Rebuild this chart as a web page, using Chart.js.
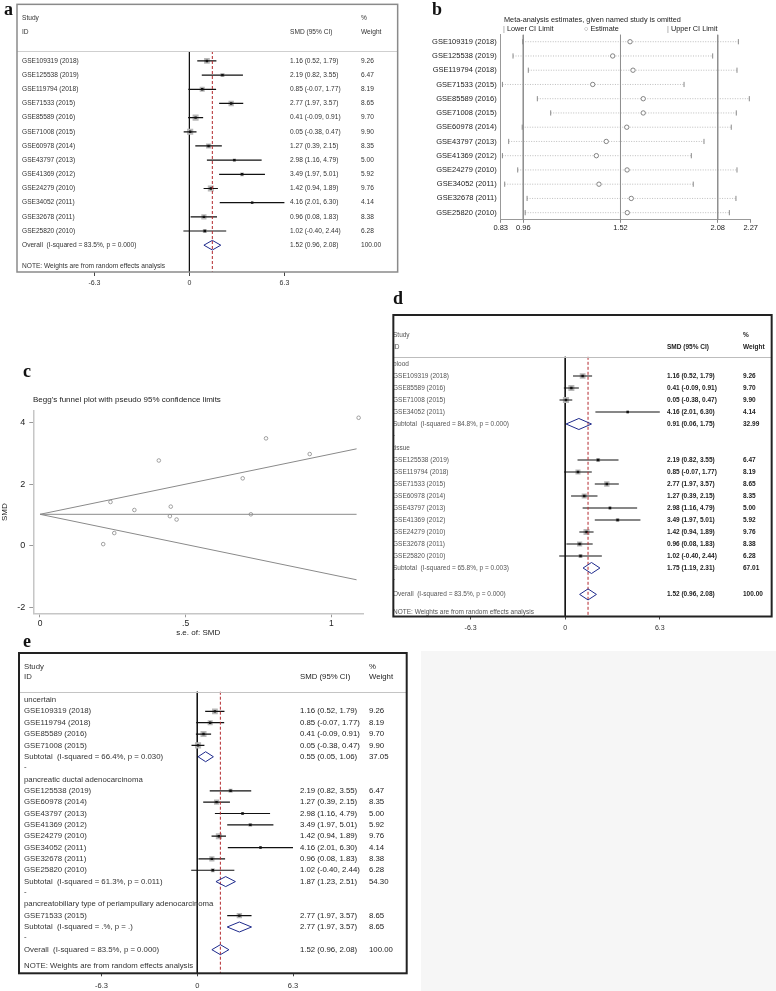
<!DOCTYPE html>
<html><head><meta charset="utf-8"><title>Meta-analysis figure</title>
<script src="https://cdn.jsdelivr.net/npm/chart.js@4.4.1/dist/chart.umd.min.js"></script>
<style>
html,body{margin:0;padding:0;background:#fff}
body{width:776px;height:991px;position:relative;overflow:hidden;font-family:"Liberation Sans",Arial,sans-serif;color:#222}
canvas{position:absolute;display:block}
.pl{position:absolute;font-family:"Liberation Serif","Times New Roman",serif;font-weight:bold;font-size:18px;line-height:18px;color:#111}
.tx{position:absolute;white-space:nowrap;color:#222}
.mk{color:#888}
#greybox{position:absolute;left:421px;top:651px;width:355px;height:340px;background:#f6f6f6}
</style></head><body>
<div id="greybox"></div>
<canvas id="ca" width="402" height="296" style="left:0;top:0"></canvas>
<canvas id="cb" width="376" height="240" style="left:400px;top:0"></canvas>
<canvas id="cc" width="388" height="280" style="left:0;top:360px"></canvas>
<canvas id="cd" width="387" height="350" style="left:389px;top:290px"></canvas>
<canvas id="ce" width="420" height="346" style="left:0;top:645px"></canvas>
<div class="pl" style="left:4px;top:0">a</div>
<div class="pl" style="left:432px;top:0">b</div>
<div class="pl" style="left:23px;top:362px">c</div>
<div class="pl" style="left:393px;top:289px">d</div>
<div class="pl" style="left:23px;top:632px">e</div>
<div class="tx" style="left:504px;top:14.5px;font-size:7.3px;line-height:9px">Meta-analysis estimates, given named study is omitted</div>
<div class="tx" style="left:503px;top:23.5px;font-size:7.3px;line-height:9px"><span class="mk">|</span> Lower CI Limit</div>
<div class="tx" style="left:584px;top:23.5px;font-size:7.3px;line-height:9px"><span class="mk">&#9675;</span> Estimate</div>
<div class="tx" style="left:667px;top:23.5px;font-size:7.3px;line-height:9px"><span class="mk">|</span> Upper CI Limit</div>
<div class="tx" style="left:33px;top:395px;font-size:8px;line-height:10px">Begg's funnel plot with pseudo 95% confidence limits</div>
<script>
// ---------- data ----------
const studies = ['GSE109319 (2018)','GSE125538 (2019)','GSE119794 (2018)','GSE71533 (2015)','GSE85589 (2016)','GSE71008 (2015)','GSE60978 (2014)','GSE43797 (2013)','GSE41369 (2012)','GSE24279 (2010)','GSE34052 (2011)','GSE32678 (2011)','GSE25820 (2010)'];
const smd     = [1.16, 2.19, 0.85, 2.77, 0.41, 0.05, 1.27, 2.98, 3.49, 1.42, 4.16, 0.96, 1.02];
const ciLow   = [0.52, 0.82, -0.07, 1.97, -0.09, -0.38, 0.39, 1.16, 1.97, 0.94, 2.01, 0.08, -0.40];
const ciHigh  = [1.79, 3.55, 1.77, 3.57, 0.91, 0.47, 2.15, 4.79, 5.01, 1.89, 6.30, 1.83, 2.44];
const weights = [9.26, 6.47, 8.19, 8.65, 9.70, 9.90, 8.35, 5.00, 5.92, 9.76, 4.14, 8.38, 6.28];
const overallVals = [1.52, 0.96, 2.08, 100.00];
const overallHet  = ['83.5%', '0.000'];
const forestTicks = [-6.3, 0, 6.3];

// panel d subgroups (sample type)
const dGroups = ['blood', 'tissue'];
const dMembers = [[0, 4, 5, 10], [1, 2, 3, 6, 7, 8, 9, 11, 12]];
const dEst = [0.91, 1.75], dLow = [0.06, 1.19], dHigh = [1.75, 2.31], dW = [32.99, 67.01];
const dI2 = ['84.8%', '65.8%'], dP = ['0.000', '0.003'];

// panel e subgroups (tumour type)
const eGroups = ['uncertain', 'pancreatic ductal adenocarcinoma', 'pancreatobiliary type of periampullary adenocarcinoma'];
const eMembers = [[0, 2, 4, 5], [1, 6, 7, 8, 9, 10, 11, 12], [3]];
const eEst = [0.55, 1.87, 2.77], eLow = [0.05, 1.23, 1.97], eHigh = [1.06, 2.51, 3.57], eW = [37.05, 54.30, 8.65];
const eI2 = ['66.4%', '61.3%', '.%'], eP = ['0.030', '0.011', '.'];

// panel b: leave-one-out estimates
const omitEst  = [1.575, 1.475, 1.592, 1.360, 1.651, 1.651, 1.556, 1.438, 1.381, 1.558, 1.396, 1.582, 1.559];
const omitLow  = [0.957, 0.901, 0.989, 0.840, 1.041, 1.118, 0.954, 0.876, 0.840, 0.928, 0.853, 0.982, 0.971];
const omitHigh = [2.199, 2.051, 2.191, 1.886, 2.262, 2.187, 2.158, 2.001, 1.928, 2.191, 1.939, 2.185, 2.147];
const bTicks = [0.83, 0.96, 1.52, 2.08, 2.27];
const bRefs  = [0.96, 1.52, 2.08];

// panel c: Begg's funnel
const funnelSe   = [0.324, 0.696, 0.469, 0.408, 0.255, 0.217, 0.449, 0.926, 0.776, 0.242, 1.094, 0.446, 0.724];
const funnelLineSe = [0, 1.087];
const funnelUpper  = [1.02, 3.15];
const funnelMid    = [1.02, 1.02];
const funnelLower  = [1.02, -1.11];
const cXTicks = [0, 0.5, 1];
const cYTicks = [-2, 0, 2, 4];

// ---------- helpers ----------
const FAM = '"Liberation Sans", Arial, Helvetica, sans-serif';
Chart.defaults.font.family = FAM;
Chart.defaults.color = '#222';
const f2 = v => v.toFixed(2);
const ciText = (e, l, h) => `${f2(e)} (${f2(l)}, ${f2(h)})`;
const studyRow = (i, y) => ({kind:'study', label:studies[i], est:smd[i], lo:ciLow[i], hi:ciHigh[i], w:weights[i], y});
const overallRow = y => ({kind:'overall', label:`Overall  (I-squared = ${overallHet[0]}, p = ${overallHet[1]})`, est:overallVals[0], lo:overallVals[1], hi:overallVals[2], w:overallVals[3], y});
const noteRow = y => ({kind:'note', label:'NOTE: Weights are from random effects analysis', y});

function forest(id, o) {
  const study = o.rows.filter(r => r.kind === 'study');
  const dias = o.rows.filter(r => r.kind === 'sub' || r.kind === 'overall');
  const ci = [];
  study.forEach(r => ci.push({x:r.lo, y:r.y}, {x:r.hi, y:r.y}, {x:null, y:null}));
  const dia = [];
  dias.forEach(r => dia.push({x:r.lo, y:r.y}, {x:r.est, y:r.y - o.dh}, {x:r.hi, y:r.y}, {x:r.est, y:r.y + o.dh}, {x:r.lo, y:r.y}, {x:null, y:null}));
  const datasets = [
    {label:'no effect', data:[{x:0, y:o.hdrLine}, {x:0, y:o.ymax}], showLine:true, borderColor:'#111', borderWidth:1, pointRadius:0, order:6},
    {label:'weight', data:study.map(r => ({x:r.est, y:r.y, w:r.w})), pointStyle:'rect',
      pointRadius:c => (c.raw ? c.raw.w * o.boxK / 1.4142 : 0), backgroundColor:'#b9b9b9', pointBorderWidth:0, order:5},
    {label:'95% CI', data:ci, showLine:true, spanGaps:false, borderColor:'#111', borderWidth:1.2, pointRadius:0, order:4},
    {label:'SMD', data:study.map(r => ({x:r.est, y:r.y})), pointStyle:'rect', pointRadius:1.7, backgroundColor:'#111', pointBorderWidth:0, order:3},
    {label:'overall', data:[{x:overallVals[0], y:o.hdrLine}, {x:overallVals[0], y:o.ymax}], showLine:true, borderColor:'#b3282d', borderDash:[3, 2], borderWidth:1, pointRadius:0, order:2},
    {label:'pooled', data:dia, showLine:true, spanGaps:false, borderColor:'#1e2a8c', borderWidth:1, pointRadius:0, order:1}
  ];
  const textPlugin = {
    id:'forestText',
    afterDraw(chart) {
      const {ctx, chartArea:ca, scales:{y}} = chart;
      const Y = v => y.getPixelForValue(v);
      ctx.save();
      ctx.strokeStyle = o.hdrColor; ctx.lineWidth = 1;
      ctx.beginPath(); ctx.moveTo(ca.left, Math.round(Y(o.hdrLine)) + 0.5); ctx.lineTo(ca.right, Math.round(Y(o.hdrLine)) + 0.5); ctx.stroke();
      ctx.textBaseline = 'middle'; ctx.textAlign = 'left';
      ctx.fillStyle = o.labelColor;
      ctx.font = `${o.font}px ${FAM}`;
      ctx.fillText('Study', o.colId, Y(o.hdrStudy));
      ctx.fillText('ID', o.colId, Y(o.hdrId));
      ctx.fillStyle = o.textColor;
      ctx.font = `${o.hdrWeight} ${o.font}px ${FAM}`;
      ctx.fillText('SMD (95% CI)', o.colSmd, Y(o.hdrId));
      ctx.fillText('%', o.colWt, Y(o.hdrStudy));
      ctx.fillText('Weight', o.colWt, Y(o.hdrId));
      o.rows.forEach(r => {
        ctx.fillStyle = o.labelColor;
        ctx.font = `${o.font}px ${FAM}`;
        ctx.fillText(r.label, o.colId, Y(r.y));
        if (r.est !== undefined) {
          ctx.fillStyle = o.textColor;
          ctx.font = `${o.valWeight} ${o.font}px ${FAM}`;
          ctx.fillText(ciText(r.est, r.lo, r.hi), o.colSmd, Y(r.y));
          ctx.fillText(f2(r.w), o.colWt, Y(r.y));
        }
      });
      ctx.strokeStyle = o.boxColor; ctx.lineWidth = o.boxWidth;
      ctx.strokeRect(ca.left, ca.top, ca.right - ca.left, ca.bottom - ca.top);
      ctx.restore();
    }
  };
  return new Chart(document.getElementById(id), {
    type:'scatter',
    data:{datasets},
    options:{
      responsive:false, animation:false, events:[],
      layout:{padding:o.pad},
      plugins:{legend:{display:false}, tooltip:{enabled:false}},
      scales:{
        x:{type:'linear', min:o.xmin, max:o.xmax,
          afterBuildTicks:s => { s.ticks = forestTicks.map(v => ({value:v})); },
          ticks:{callback:v => String(v), font:{size:o.tickFont}, color:'#333', padding:o.tickPad, autoSkip:false, maxRotation:0},
          grid:{display:true, drawOnChartArea:false, drawTicks:true, tickLength:o.tickLen, color:'#444'},
          border:{display:false},
          afterFit:s => { s.height = o.axisH; }},
        y:{type:'linear', display:false, min:o.ymin, max:o.ymax, reverse:true}
      }
    },
    plugins:[textPlugin]
  });
}

// ---------- panel a ----------
const rowsA = studies.map((s, i) => studyRow(i, i));
rowsA.push(overallRow(13), noteRow(14.5));
forest('ca', {
  rows:rowsA, xmin:-11.434, xmax:13.81, ymin:-3.993, ymax:14.892,
  pad:{left:17, top:1, right:3, bottom:4}, axisH:20, tickLen:4, tickPad:3, tickFont:7,
  font:6.6, hdrWeight:'normal', valWeight:'normal', textColor:'#333', labelColor:'#333',
  boxColor:'#8a8a8a', boxWidth:1.5, hdrColor:'#cfcfcf',
  colId:22, colSmd:290, colWt:361, hdrStudy:-3, hdrId:-2, hdrLine:-0.7, dh:0.34, boxK:0.62
});

// ---------- panel d ----------
const rowsD = [];
(function () {
  let y = 0;
  dGroups.forEach((g, k) => {
    rowsD.push({kind:'group', label:g, y:y++});
    dMembers[k].forEach(i => rowsD.push(studyRow(i, y++)));
    rowsD.push({kind:'sub', label:`Subtotal  (I-squared = ${dI2[k]}, p = ${dP[k]})`, est:dEst[k], lo:dLow[k], hi:dHigh[k], w:dW[k], y:y++});
    rowsD.push({kind:'dash', label:'-', y:(y++) - 0.1});
  });
  rowsD.push(overallRow(19.2), noteRow(20.7));
})();
forest('cd', {
  rows:rowsD, xmin:-11.447, xmax:13.75, ymin:-4.083, ymax:21.04,
  pad:{left:1, top:25, right:3, bottom:3.5}, axisH:20, tickLen:3, tickPad:4, tickFont:7,
  font:6.5, hdrWeight:'bold', valWeight:'bold', textColor:'#222', labelColor:'#555',
  boxColor:'#222', boxWidth:2, hdrColor:'#bdbdbd',
  colId:4, colSmd:278, colWt:354, hdrStudy:-2.4, hdrId:-1.4, hdrLine:-0.6, dh:0.46, boxK:0.62
});

// ---------- panel e ----------
const rowsE = [];
(function () {
  let y = 0;
  eGroups.forEach((g, k) => {
    rowsE.push({kind:'group', label:g, y:y++});
    eMembers[k].forEach(i => rowsE.push(studyRow(i, y++)));
    rowsE.push({kind:'sub', label:`Subtotal  (I-squared = ${eI2[k]}, p = ${eP[k]})`, est:eEst[k], lo:eLow[k], hi:eHigh[k], w:eW[k], y:y++});
    rowsE.push({kind:'dash', label:'-', y:(y++) - 0.1});
  });
  rowsE.push(overallRow(22), noteRow(23.44));
})();
forest('ce', {
  rows:rowsE, xmin:-11.73, xmax:13.78, ymin:-4.14, ymax:24.08,
  pad:{left:19, top:8, right:13.3, bottom:1.7}, axisH:16, tickLen:3, tickPad:5, tickFont:7.5,
  font:7.8, hdrWeight:'normal', valWeight:'normal', textColor:'#222', labelColor:'#333',
  boxColor:'#222', boxWidth:2, hdrColor:'#c4c4c4',
  colId:24, colSmd:300, colWt:369, hdrStudy:-2.93, hdrId:-2.03, hdrLine:-0.73, dh:0.44, boxK:0.62
});

// ---------- panel b ----------
(function () {
  const spans = [], refs = [];
  omitLow.forEach((v, i) => spans.push({x:v, y:i}, {x:omitHigh[i], y:i}, {x:null, y:null}));
  bRefs.forEach(v => refs.push({x:v, y:-0.5}, {x:v, y:12.5}, {x:null, y:null}));
  new Chart(document.getElementById('cb'), {
    type:'scatter',
    data:{datasets:[
      {label:'range', data:spans, showLine:true, spanGaps:false, borderColor:'#bdbdbd', borderDash:[1, 1.5], borderWidth:1, pointRadius:0, order:5},
      {label:'reference', data:refs, showLine:true, spanGaps:false, borderColor:'#8f8f8f', borderWidth:1, pointRadius:0, order:4},
      {label:'Lower CI Limit', data:omitLow.map((v, i) => ({x:v, y:i})), pointStyle:'line', pointRotation:90, pointRadius:2.6, borderColor:'#8a8a8a', pointBorderWidth:1, order:3},
      {label:'Upper CI Limit', data:omitHigh.map((v, i) => ({x:v, y:i})), pointStyle:'line', pointRotation:90, pointRadius:2.6, borderColor:'#8a8a8a', pointBorderWidth:1, order:2},
      {label:'Estimate', data:omitEst.map((v, i) => ({x:v, y:i})), pointStyle:'circle', pointRadius:2.2, backgroundColor:'#fff', borderColor:'#777', pointBorderWidth:0.9, order:1}
    ]},
    options:{
      responsive:false, animation:false, events:[],
      layout:{padding:{left:4.7, top:34.6, right:25.3, bottom:4.2}},
      plugins:{legend:{display:false}, tooltip:{enabled:false}},
      scales:{
        x:{type:'linear', min:0.83, max:2.27,
          afterBuildTicks:s => { s.ticks = bTicks.map(v => ({value:v})); },
          ticks:{callback:v => v.toFixed(2), font:{size:7.5}, color:'#222', padding:1, autoSkip:false, maxRotation:0},
          grid:{drawOnChartArea:false, tickLength:3, color:'#888'},
          border:{color:'#999', width:1},
          afterFit:s => { s.height = 16; }},
        y:{type:'linear', min:-0.5, max:12.5, reverse:true,
          afterBuildTicks:s => { s.ticks = studies.map((_, i) => ({value:i})); },
          ticks:{callback:v => studies[v], font:{size:7.5}, color:'#222', padding:4, autoSkip:false},
          grid:{drawOnChartArea:false, drawTicks:false, tickLength:0},
          border:{color:'#999', width:1},
          afterFit:s => { s.width = 96; }}
      }
    }
  });
})();

// ---------- panel c ----------
(function () {
  const line = (ys, lbl) => ({label:lbl, data:funnelLineSe.map((x, i) => ({x, y:ys[i]})), showLine:true, borderColor:'#8a8a8a', borderWidth:1, pointRadius:0});
  new Chart(document.getElementById('cc'), {
    type:'scatter',
    data:{datasets:[
      line(funnelUpper, 'upper limit'), line(funnelMid, 'pooled'), line(funnelLower, 'lower limit'),
      {label:'studies', data:funnelSe.map((x, i) => ({x, y:smd[i]})), pointStyle:'circle', pointRadius:1.8, backgroundColor:'rgba(0,0,0,0)', borderColor:'#8a8a8a', pointBorderWidth:0.8}
    ]},
    options:{
      responsive:false, animation:false, events:[],
      layout:{padding:{left:0, top:51, right:25, bottom:2.7}},
      plugins:{legend:{display:false}, tooltip:{enabled:false}},
      scales:{
        x:{type:'linear', min:-0.023, max:1.109,
          afterBuildTicks:s => { s.ticks = cXTicks.map(v => ({value:v})); },
          ticks:{callback:v => (v === 0.5 ? '.5' : String(v)), font:{size:8.5}, color:'#222', padding:1, autoSkip:false, maxRotation:0},
          grid:{drawOnChartArea:false, tickLength:4, color:'#999'},
          border:{color:'#c6c6c6', width:1.5},
          title:{display:true, text:'s.e. of: SMD', font:{size:8}, color:'#222', padding:0},
          afterFit:s => { s.height = 24; }},
        y:{type:'linear', min:-2.2, max:4.38,
          afterBuildTicks:s => { s.ticks = cYTicks.map(v => ({value:v})); },
          ticks:{callback:v => String(v), font:{size:9}, color:'#222', padding:4, autoSkip:false},
          grid:{drawOnChartArea:false, tickLength:4, color:'#999'},
          border:{color:'#c6c6c6', width:1.5},
          title:{display:true, text:'SMD', font:{size:8}, color:'#222', padding:0},
          afterFit:s => { s.width = 33.3; }}
      }
    }
  });
})();
</script>
</body></html>
